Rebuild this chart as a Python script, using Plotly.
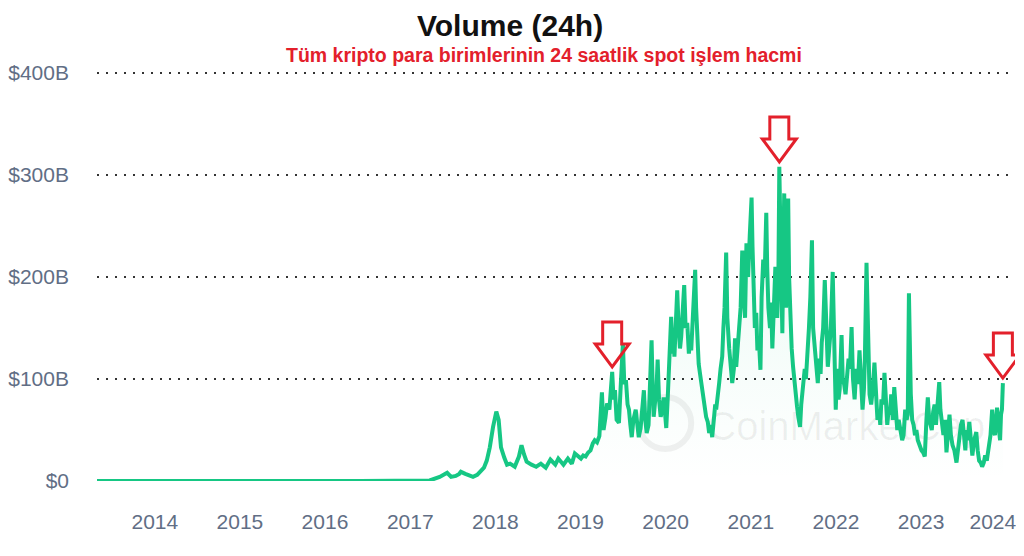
import plotly.graph_objects as go

# ---- data, volumes in billions of USD ----
dates_2013_2018 = [
    "2013-04-28", "2013-12-01", "2014-06-01", "2015-06-01", "2016-06-01", "2017-01-01",
    "2017-03-25", "2017-05-07", "2017-05-28", "2017-06-08", "2017-06-25", "2017-07-15",
    "2017-07-30", "2017-08-06", "2017-08-25", "2017-09-27", "2017-10-15", "2017-11-13",
    "2017-11-25", "2017-12-08", "2017-12-22", "2018-01-05", "2018-01-15", "2018-01-20",
    "2018-01-25", "2018-02-08", "2018-02-20", "2018-03-05", "2018-03-25", "2018-04-12",
    "2018-04-23", "2018-05-04", "2018-05-15", "2018-06-05", "2018-06-25", "2018-07-15",
    "2018-08-05", "2018-08-25", "2018-09-15", "2018-09-28", "2018-10-20", "2018-11-08",
    "2018-11-25", "2018-12-08",
]
vol_2013_2018 = [
    0.1, 0.3, 0.1, 0.1, 0.1, 0.3, 0.5, 4, 6, 8, 4, 5, 7, 9, 7, 4, 6, 13,
    20, 33, 53, 68, 60, 43, 33, 23, 16, 17, 14, 24, 35, 26, 19, 16, 14, 17,
    13, 21, 16, 22, 16, 22, 17, 27,
]

dates_2019 = [
    "2019-01-03", "2019-01-13", "2019-01-23", "2019-02-03", "2019-02-13", "2019-02-23",
    "2019-03-03", "2019-03-13", "2019-03-23", "2019-04-03", "2019-04-10", "2019-04-18",
    "2019-04-25", "2019-05-05", "2019-05-12", "2019-05-17", "2019-05-23", "2019-05-29",
    "2019-06-05", "2019-06-15", "2019-06-22", "2019-06-27", "2019-07-02", "2019-07-08",
    "2019-07-15", "2019-07-22", "2019-07-28", "2019-08-03", "2019-08-09", "2019-08-16",
    "2019-08-26", "2019-09-02", "2019-09-08", "2019-09-16", "2019-09-24", "2019-09-30",
    "2019-10-06", "2019-10-12", "2019-10-20", "2019-10-27", "2019-11-02", "2019-11-07",
    "2019-11-11", "2019-11-18", "2019-11-24", "2019-11-28", "2019-12-04", "2019-12-11",
    "2019-12-18", "2019-12-24", "2019-12-30",
]
vol_2019 = [
    22, 25, 24, 28, 30, 37, 40, 38, 44, 87, 50, 62, 76, 70, 95, 107, 80, 89,
    60, 57, 90, 120, 135, 95, 99, 75, 70, 55, 43, 60, 70, 55, 43, 52, 75, 89,
    60, 47, 55, 100, 138, 90, 63, 80, 95, 119, 80, 63, 70, 82, 60,
]

dates_2020 = [
    "2020-01-04", "2020-01-10", "2020-01-16", "2020-01-25", "2020-01-31", "2020-02-05",
    "2020-02-08", "2020-02-14", "2020-02-20", "2020-02-26", "2020-03-03", "2020-03-08",
    "2020-03-14", "2020-03-21", "2020-03-27", "2020-04-03", "2020-04-10", "2020-04-16",
    "2020-04-20", "2020-04-28", "2020-05-07", "2020-05-11", "2020-05-15", "2020-05-22",
    "2020-05-28", "2020-06-02", "2020-06-10", "2020-06-16", "2020-06-23", "2020-06-30",
    "2020-07-06", "2020-07-12", "2020-07-19", "2020-07-26", "2020-08-01", "2020-08-05",
    "2020-08-12", "2020-08-18", "2020-08-24", "2020-08-31", "2020-09-05", "2020-09-10",
    "2020-09-17", "2020-09-22", "2020-09-30", "2020-10-05", "2020-10-13", "2020-10-20",
    "2020-10-25", "2020-10-30", "2020-11-05", "2020-11-12", "2020-11-18", "2020-11-25",
    "2020-12-01", "2020-12-07", "2020-12-13", "2020-12-20", "2020-12-27",
]
vol_2020 = [
    52, 80, 120, 161, 125, 140, 122, 165, 187, 150, 130, 141, 175, 192, 150,
    155, 125, 140, 128, 160, 207, 170, 141, 115, 105, 96, 80, 70, 63, 58,
    47, 55, 43, 60, 75, 70, 90, 96, 110, 122, 150, 170, 224, 160, 130,
    115, 96, 110, 140, 112, 130, 141, 170, 226, 190, 160, 233, 200, 240,
]

dates_2021 = [
    "2021-01-04", "2021-01-08", "2021-01-12", "2021-01-18", "2021-01-24", "2021-01-29",
    "2021-02-04", "2021-02-11", "2021-02-16", "2021-02-23", "2021-03-01", "2021-03-08",
    "2021-03-12", "2021-03-17", "2021-03-24", "2021-03-29", "2021-04-03", "2021-04-08",
    "2021-04-16", "2021-04-20", "2021-04-24", "2021-04-29", "2021-05-03", "2021-05-08",
    "2021-05-12", "2021-05-16", "2021-05-20", "2021-05-24", "2021-05-28", "2021-06-01",
    "2021-06-05", "2021-06-10", "2021-06-14", "2021-06-19", "2021-06-25", "2021-07-01",
    "2021-07-07", "2021-07-12", "2021-07-18", "2021-07-24", "2021-07-31", "2021-08-05",
    "2021-08-13", "2021-08-20", "2021-08-25", "2021-08-30", "2021-09-03", "2021-09-07",
    "2021-09-13", "2021-09-20", "2021-09-25", "2021-10-03", "2021-10-09", "2021-10-15",
    "2021-10-21", "2021-10-27", "2021-11-01", "2021-11-07", "2021-11-14", "2021-11-20",
    "2021-11-27", "2021-12-03", "2021-12-10", "2021-12-18", "2021-12-24", "2021-12-31",
]
vol_2021 = [
    278, 230, 180, 150, 165, 128, 140, 109, 180, 217, 200, 263, 210, 170, 150, 175,
    130, 160, 210, 185, 160, 200, 308, 240, 180, 145, 220, 282, 200, 170, 210, 277,
    200, 160, 130, 112, 95, 85, 73, 62, 53, 75, 96, 110, 100, 128, 140, 150,
    180, 236, 150, 128, 110, 96, 120, 105, 136, 150, 197, 140, 112, 130, 150, 205,
    120, 70,
]

dates_2022 = [
    "2022-01-06", "2022-01-12", "2022-01-17", "2022-01-25", "2022-01-30", "2022-02-05",
    "2022-02-11", "2022-02-18", "2022-02-24", "2022-03-02", "2022-03-09", "2022-03-15",
    "2022-03-22", "2022-03-29", "2022-04-05", "2022-04-12", "2022-04-18", "2022-04-25",
    "2022-05-01", "2022-05-05", "2022-05-12", "2022-05-18", "2022-05-25", "2022-06-01",
    "2022-06-08", "2022-06-15", "2022-06-21", "2022-06-28", "2022-07-05", "2022-07-10",
    "2022-07-15", "2022-07-22", "2022-07-28", "2022-08-03", "2022-08-09", "2022-08-15",
    "2022-08-20", "2022-08-26", "2022-09-02", "2022-09-08", "2022-09-14", "2022-09-21",
    "2022-09-27", "2022-10-04", "2022-10-12", "2022-10-18", "2022-10-25", "2022-10-31",
    "2022-11-05", "2022-11-10", "2022-11-14", "2022-11-18", "2022-11-24", "2022-11-30",
    "2022-12-06", "2022-12-12", "2022-12-18", "2022-12-25",
]
vol_2022 = [
    110, 80, 90, 143, 100, 95, 85, 105, 120, 110, 151, 100, 80, 110, 95, 128,
    90, 70, 90, 120, 214, 130, 85, 75, 90, 116, 80, 60, 70, 55, 80, 75,
    106, 70, 55, 70, 65, 85, 60, 92, 70, 50, 60, 48, 40, 45, 70, 60,
    65, 184, 120, 85, 60, 55, 45, 50, 40, 35,
]

dates_2023 = [
    "2023-01-03", "2023-01-10", "2023-01-17", "2023-01-24", "2023-01-30", "2023-02-05",
    "2023-02-10", "2023-02-16", "2023-02-22", "2023-02-28", "2023-03-06", "2023-03-13",
    "2023-03-20", "2023-03-25", "2023-04-01", "2023-04-07", "2023-04-14", "2023-04-20",
    "2023-04-26", "2023-05-03", "2023-05-09", "2023-05-16", "2023-05-24", "2023-06-02",
    "2023-06-08", "2023-06-15", "2023-06-21", "2023-06-28", "2023-07-04", "2023-07-10",
    "2023-07-14", "2023-07-20", "2023-07-27", "2023-08-03", "2023-08-09", "2023-08-17",
    "2023-08-26", "2023-09-01", "2023-09-07", "2023-09-14", "2023-09-20", "2023-09-27",
    "2023-10-03", "2023-10-10", "2023-10-16", "2023-10-20", "2023-10-26", "2023-11-02",
    "2023-11-08", "2023-11-14", "2023-11-19", "2023-11-23", "2023-11-29", "2023-12-06",
    "2023-12-10", "2023-12-14", "2023-12-18",
]
vol_2023 = [
    30, 28, 24, 60, 82, 60, 55, 50, 68, 75, 55, 80, 97, 70, 55, 45,
    60, 28, 45, 65, 45, 35, 30, 18, 30, 45, 55, 60, 40, 30, 50, 40,
    58, 35, 25, 40, 48, 30, 20, 18, 14, 18, 25, 20, 28, 33, 45, 70,
    50, 45, 60, 72, 55, 40, 65, 70, 96,
]

arrow_dates = ["2019-05-17", "2021-05-03", "2023-12-18"]

y_ticks = [0, 100e9, 200e9, 300e9, 400e9]
y_tick_text = ["$0", "$100B", "$200B", "$300B", "$400B"]
x_years = ["2014", "2015", "2016", "2017", "2018", "2019", "2020", "2021", "2022", "2023", "2024"]
# the last label is pulled inside the plot edge, as in the original
x_tick_vals = [f"{y}-01-01" for y in x_years[:-1]] + ["2023-11-05"]

title_text = "Volume (24h)"
subtitle_text = "Tüm kripto para birimlerinin 24 saatlik spot işlem hacmi"

# ---- assemble ----
dates = dates_2013_2018 + dates_2019 + dates_2020 + dates_2021 + dates_2022 + dates_2023
vol_b = vol_2013_2018 + vol_2019 + vol_2020 + vol_2021 + vol_2022 + vol_2023
assert len(dates) == len(vol_b)
volume = [v * 1e9 for v in vol_b]

GREEN = "#16c784"
RED = "#e3202b"
GRAY = "#616e85"
FONT = "Liberation Sans, Arial, sans-serif"

fig = go.Figure()

# faint watermark (drawn under the data)
fig.add_trace(go.Scatter(
    x=["2020-06-28"], y=[50e9], mode="text", text=["CoinMarketCap"],
    textposition="middle right",
    textfont=dict(family=FONT, size=40, color="rgba(0,0,0,0.06)"),
    hoverinfo="skip", showlegend=False,
))

fig.add_trace(go.Scatter(
    x=dates, y=volume, mode="lines",
    line=dict(color=GREEN, width=4, shape="linear"),
    fill="tozeroy",
    fillgradient=dict(type="vertical",
                      colorscale=[[0, "rgba(22,199,132,0.0)"], [1, "rgba(22,199,132,0.10)"]]),
    showlegend=False, hoverinfo="x+y",
))

lookup = dict(zip(dates, volume))
arrow_path = "M 0,5 L -17,28 L -9.5,28 L -9.5,50 L 9.5,50 L 9.5,28 L 17,28 Z"
shapes = []
for d in arrow_dates:
    shapes.append(dict(
        type="path", xref="x", yref="y",
        xsizemode="pixel", ysizemode="pixel",
        xanchor=d, yanchor=lookup[d],
        path=arrow_path,
        line=dict(color=RED, width=3), fillcolor="rgba(0,0,0,0)", layer="above",
    ))
# watermark logo ring
shapes.append(dict(
    type="circle", xref="paper", yref="paper", xsizemode="pixel", ysizemode="pixel",
    xanchor=0.619, yanchor=0.141, x0=-26, x1=26, y0=-26, y1=26,
    line=dict(color="rgba(0,0,0,0.06)", width=6), layer="below",
))

# page body has an 8px margin, so the figure is sized to fill the rest of the window
fig.update_layout(
    width=1016, height=548,
    margin=dict(l=89, r=9, t=62, b=75, autoexpand=False),
    paper_bgcolor="white", plot_bgcolor="white",
    showlegend=False,
    shapes=shapes,
    annotations=[
        dict(text=f"<b>{title_text}</b>", xref="paper", yref="paper", x=0.45, y=1.1516,
             xanchor="center", yanchor="top", showarrow=False, borderpad=0,
             font=dict(family=FONT, size=30, color="#111111")),
        dict(text=f"<b>{subtitle_text}</b>", xref="paper", yref="paper", x=0.487, y=1.0662,
             xanchor="center", yanchor="top", showarrow=False, borderpad=0,
             font=dict(family=FONT, size=19.5, color=RED)),
    ],
    xaxis=dict(
        type="date", range=["2013-04-28", "2024-02-08"],
        tickvals=x_tick_vals, ticktext=x_years,
        showgrid=False, zeroline=False, showline=False, ticks="",
        tickfont=dict(family=FONT, size=21, color=GRAY),
        ticklabelstandoff=26, automargin=False,
    ),
    yaxis=dict(
        range=[0, 403e9], tickvals=y_ticks, ticktext=y_tick_text,
        showgrid=True, gridcolor="#333333", gridwidth=2, griddash="2px,7px",
        zeroline=False, showline=False, ticks="",
        tickfont=dict(family=FONT, size=21, color=GRAY),
        ticklabelstandoff=27, automargin=False,
    ),
)

fig.write_html("out.html")
